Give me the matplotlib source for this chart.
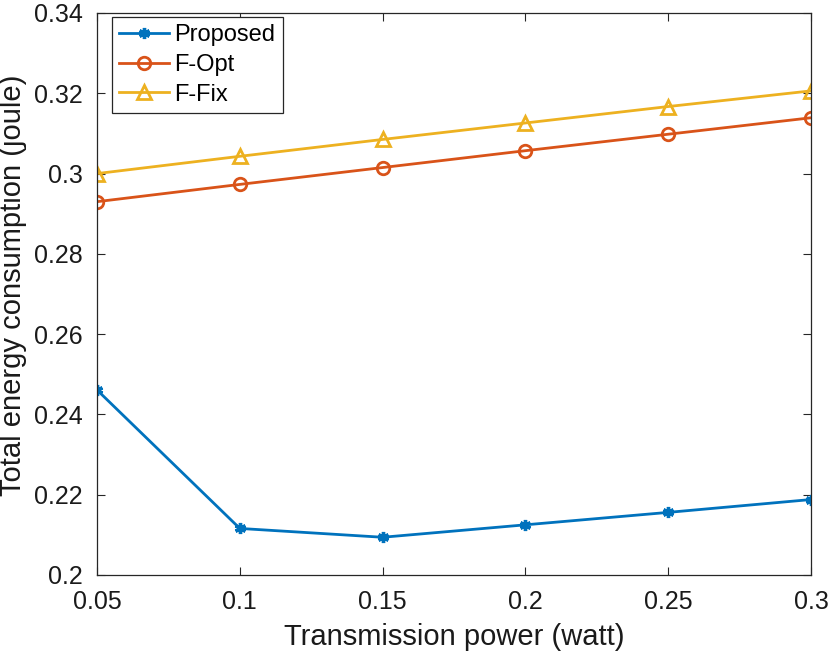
import matplotlib
matplotlib.use("Agg")
import matplotlib.pyplot as plt

power = [0.05, 0.1, 0.15, 0.2, 0.25, 0.3]
proposed = [0.2461, 0.2116, 0.2094, 0.2125, 0.2156, 0.2188]
f_opt = [0.2930, 0.2973, 0.3015, 0.3057, 0.3098, 0.3139]
f_fix = [0.3000, 0.3043, 0.3085, 0.3126, 0.3167, 0.3206]
xticks = [0.05, 0.1, 0.15, 0.2, 0.25, 0.3]
xticklabels = ["0.05", "0.1", "0.15", "0.2", "0.25", "0.3"]
yticks = [0.2, 0.22, 0.24, 0.26, 0.28, 0.3, 0.32, 0.34]
yticklabels = ["0.2", "0.22", "0.24", "0.26", "0.28", "0.3", "0.32", "0.34"]

plt.rcParams['font.family'] = ['Liberation Sans', 'DejaVu Sans']

fig = plt.figure(figsize=(8.3, 6.52), dpi=100)
ax = fig.add_axes([97/830, 77/652, 714/830, 562/652])

ax.plot(power, proposed, color='#0072BD', lw=2, marker=(6, 2, 0), ms=8, mew=2.4, label='Proposed')
ax.plot(power, f_opt, color='#D95319', lw=2, marker='o', ms=9, mfc='none', mew=2, label='F-Opt')
ax.plot(power, f_fix, color='#EDB120', lw=2, marker='^', ms=10, mfc='none', mew=2, label='F-Fix')

ax.set_xlim(0.05, 0.3)
ax.set_ylim(0.2, 0.34)
ax.set_xticks(xticks)
ax.set_xticklabels(xticklabels)
ax.set_yticks(yticks)
ax.set_yticklabels(yticklabels)
ax.tick_params(direction='in', top=True, right=True, labelsize=18, length=6, width=0.8, colors='#262626')
ax.tick_params(axis='x', pad=11)
ax.tick_params(axis='y', pad=10)
for lbl in ax.get_xticklabels() + ax.get_yticklabels():
    lbl.set_color('#1a1a1a')
for s in ax.spines.values():
    s.set_color('#262626')
    s.set_linewidth(0.9)

ax.set_xlabel('Transmission power (watt)', fontsize=21, labelpad=6, color='#1a1a1a')
ax.set_ylabel('Total energy consumption (joule)', fontsize=21, color='#1a1a1a')
ax.yaxis.set_label_coords(-0.098, 0.515)

leg = ax.legend(loc='upper left', fontsize=17, frameon=True, fancybox=False,
                edgecolor='#262626', framealpha=1, handlelength=2.1, borderpad=0.3,
                labelspacing=0.33, handletextpad=0.25, borderaxespad=0,
                bbox_to_anchor=(15/714, 558/562))
leg.get_frame().set_linewidth(0.9)

fig.savefig('out.png', dpi=100)
